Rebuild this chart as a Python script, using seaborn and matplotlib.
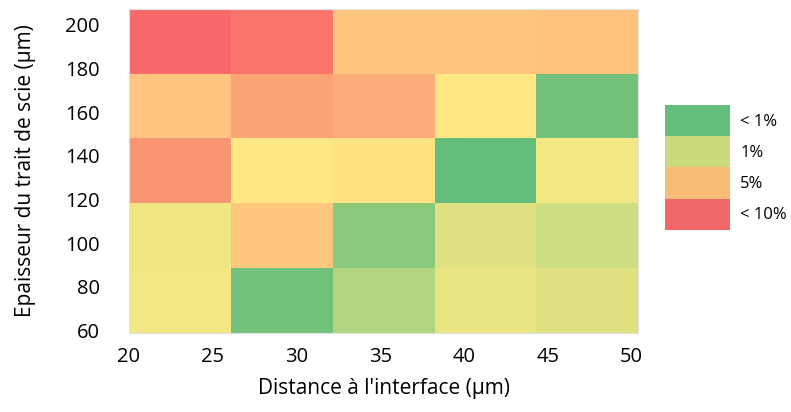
import numpy as np
import pandas as pd
import matplotlib
matplotlib.use("Agg")
import matplotlib.pyplot as plt
import seaborn as sns
from matplotlib.colors import LinearSegmentedColormap
from matplotlib.patches import Patch

# Data: colour-scale position of each cell (0 = green, 0.5 = yellow, 1 = red)
row_labels = ["180-208", "149-178", "119-149", "89-119", "60-89"]   # top to bottom
col_labels = ["20-26", "26-32", "32-38", "38-44", "44-50"]
row_top    = [1.00, 0.95, 0.645, 0.645, 0.655]
row_2      = [0.645, 0.77, 0.74, 0.51, 0.05]
row_3      = [0.83, 0.51, 0.53, 0.00, 0.46]
row_4      = [0.45, 0.64, 0.13, 0.40, 0.34]
row_bottom = [0.46, 0.05, 0.25, 0.43, 0.40]

x_ticks = [20, 25, 30, 35, 40, 45, 50]
y_ticks = [60, 80, 100, 120, 140, 160, 180, 200]
legend_labels = ["< 1%", "1%", "5%", "< 10%"]
legend_colors = ["#63BE7B", "#CADB7D", "#F8BC77", "#F0686A"]

df = pd.DataFrame([row_top, row_2, row_3, row_4, row_bottom],
                  index=row_labels, columns=col_labels)

plt.rcParams["font.family"] = ["Open Sans", "DejaVu Sans"]

fig = plt.figure(figsize=(7.91, 4.12), dpi=100)
ax = fig.add_axes([0.163, 0.192, 0.644, 0.787])

cmap = LinearSegmentedColormap.from_list("excel", ["#63BE7B", "#FFEB84", "#F8696B"])
sns.heatmap(df, ax=ax, cmap=cmap, vmin=0, vmax=1, cbar=False, linewidths=0)

# numeric axes mapped onto cell positions
x_pos = [(v - 20) / 6.08 for v in x_ticks]
y_pos = [5 - (v - 60) / 29.7 for v in y_ticks]
ax.set_xticks(x_pos)
ax.set_xticklabels([str(v) for v in x_ticks], rotation=0)
ax.set_yticks(y_pos)
ax.set_yticklabels([str(v) for v in y_ticks], rotation=0)
ax.tick_params(axis="both", length=0, labelsize=14.5, colors="black")
ax.tick_params(axis="y", pad=21)
ax.tick_params(axis="x", pad=10)
ax.set_xlabel("Distance à l'interface (µm)", fontsize=15, labelpad=8)
ax.set_ylabel("Epaisseur du trait de scie (µm)", fontsize=15, labelpad=21)

for s in ax.spines.values():
    s.set_visible(True)
    s.set_color("#e0e0e0")
    s.set_linewidth(0.8)

handles = [Patch(facecolor=c, edgecolor="none") for c in legend_colors]
leg = fig.legend(handles, legend_labels, loc="upper left",
                 bbox_to_anchor=(0.841, 0.745), frameon=False, fontsize=12,
                 handlelength=3.9, handleheight=2.5, labelspacing=0.0,
                 handletextpad=0.6, borderpad=0, borderaxespad=0)

fig.savefig("out.png", dpi=100)
